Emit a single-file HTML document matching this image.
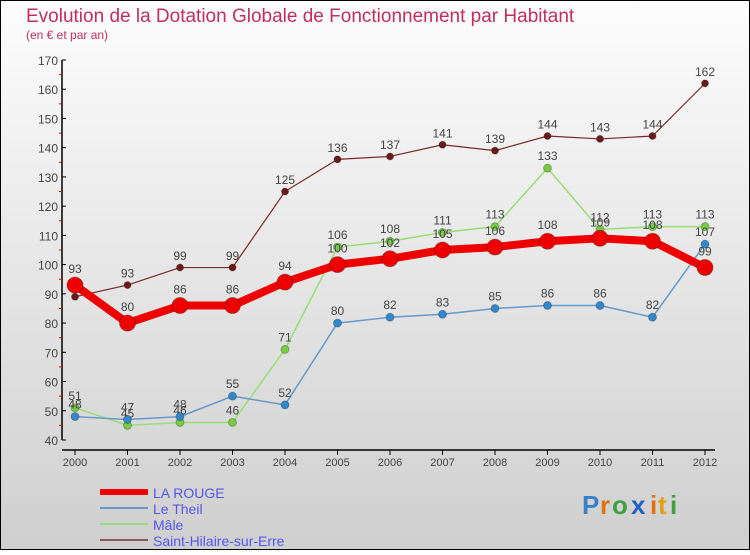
<!DOCTYPE html>
<html><head><meta charset="utf-8"><style>
html,body{margin:0;padding:0}
body{width:750px;height:550px;overflow:hidden;font-family:"Liberation Sans",sans-serif}
</style></head><body>
<svg id="chart" width="750" height="550" xmlns="http://www.w3.org/2000/svg">
<defs><linearGradient id="bg" x1="0" y1="0" x2="0" y2="1"><stop offset="0" stop-color="#fdfdfd"/><stop offset="1" stop-color="#cfcfcf"/></linearGradient></defs>
<rect x="0.5" y="0.5" width="749" height="549" fill="url(#bg)" stroke="#000"/>
<text x="26" y="22" font-size="19" fill="#c0305a">Evolution de la Dotation Globale de Fonctionnement par Habitant</text>
<text x="26" y="39" font-size="12" fill="#c0305a">(en € et par an)</text>
<g id="axes"></g><g id="series"></g><g id="legend"></g>
<g font-size="26" font-weight="bold">
<text x="582" y="514" fill="#3b7fc8">P</text><text x="600" y="514" fill="#e07010">r</text><text x="612" y="514" fill="#40a040">o</text><text x="631" y="514" fill="#2060c0">x</text><text x="650" y="514" fill="#e07010">i</text><text x="658" y="514" fill="#e0a010">t</text><text x="670" y="514" fill="#40a040">i</text></g>
</svg>
<script>
const years=[2000,2001,2002,2003,2004,2005,2006,2007,2008,2009,2010,2011,2012];
const yTicks=[40,50,60,70,80,90,100,110,120,130,140,150,160,170];
const laRouge=[93,80,86,86,94,100,102,105,106,108,109,108,99];
const leTheil=[48,47,48,55,52,80,82,83,85,86,86,82,107];
const male=[51,45,46,46,71,106,108,111,113,133,112,113,113];
const stHilaire=[89,93,99,99,125,136,137,141,139,144,143,144,162];
const NS='http://www.w3.org/2000/svg';
function xS(i){return 75+i*52.5;}
function yS(v){return 440-(v-40)*380/130;}
function mk(tag,attrs,parent,txt){const e=document.createElementNS(NS,tag);for(const k in attrs)e.setAttribute(k,attrs[k]);if(txt!==undefined)e.textContent=txt;parent.appendChild(e);return e;}
const axes=document.getElementById('axes');
let e=mk('line',{x1:62,y1:60,x2:62,y2:440,stroke:'#000','stroke-width':1.5},axes);


e=mk('line',{x1:62,y1:450,x2:715,y2:450,stroke:'#000','stroke-width':1.5},axes);


yTicks.forEach((t,i)=>{
  mk('line',{x1:62,y1:yS(t),x2:66,y2:yS(t),stroke:'#000'},axes);
  if(i<yTicks.length-1)mk('line',{x1:59,y1:yS(t+5),x2:62,y2:yS(t+5),stroke:'#e00'},axes);
  const l=mk('text',{x:58,y:yS(t)+5,'font-size':12,fill:'#444','text-anchor':'end'},axes,t);
  
  
});
years.forEach((y,i)=>{
  mk('line',{x1:xS(i),y1:450,x2:xS(i),y2:455,stroke:'#000'},axes);
  const l=mk('text',{x:xS(i),y:466,'font-size':11,fill:'#444','text-anchor':'middle'},axes,y);
  
  
});
const series=[
 {name:'saint-hilaire-sur-erre',data:stHilaire,c:'#7a2a2a',dot:'#6a1a1a',w:1.2,r:3.5},
 {name:'male',data:male,c:'#99dd77',dot:'#77cc44',w:1.5,r:4},
 {name:'le-theil',data:leTheil,c:'#6699cc',dot:'#3388cc',w:1.5,r:4},
 {name:'la-rouge',data:laRouge,c:'#ee0000',dot:'#ee0000',w:8,r:8}];
const sg=document.getElementById('series');
series.forEach(s=>{
  const g=mk('g',{},sg);
  
  
  const p=mk('polyline',{points:s.data.map((v,i)=>xS(i)+','+yS(v)).join(' '),fill:'none',stroke:s.c,'stroke-width':s.w,'stroke-linejoin':'round'},g);
  
  
  s.data.forEach((v,i)=>{
    const c=mk('circle',{cx:xS(i),cy:yS(v),r:s.r,fill:s.dot,stroke:'rgba(0,0,0,0.25)'},g);
    
    
    const t=mk('text',{x:xS(i),y:yS(v)-(s.r+4),'font-size':12,fill:'#444','text-anchor':'middle'},g,v);
    
    
  });
});
const lg=document.getElementById('legend');
const leg=[['LA ROUGE','#ee0000',6],['Le Theil','#6699cc',2],['Mâle','#99dd77',2],['Saint-Hilaire-sur-Erre','#8a5a5a',2]];
leg.forEach((L,i)=>{
  const y=492+i*16;
  const ln=mk('line',{x1:100,y1:y,x2:148,y2:y,stroke:L[1],'stroke-width':L[2]},lg);
  
  
  const t=mk('text',{x:153,y:y+6,'font-size':14,fill:'#5555ee'},lg,L[0]);
  
  
});
</script>
</body></html>
